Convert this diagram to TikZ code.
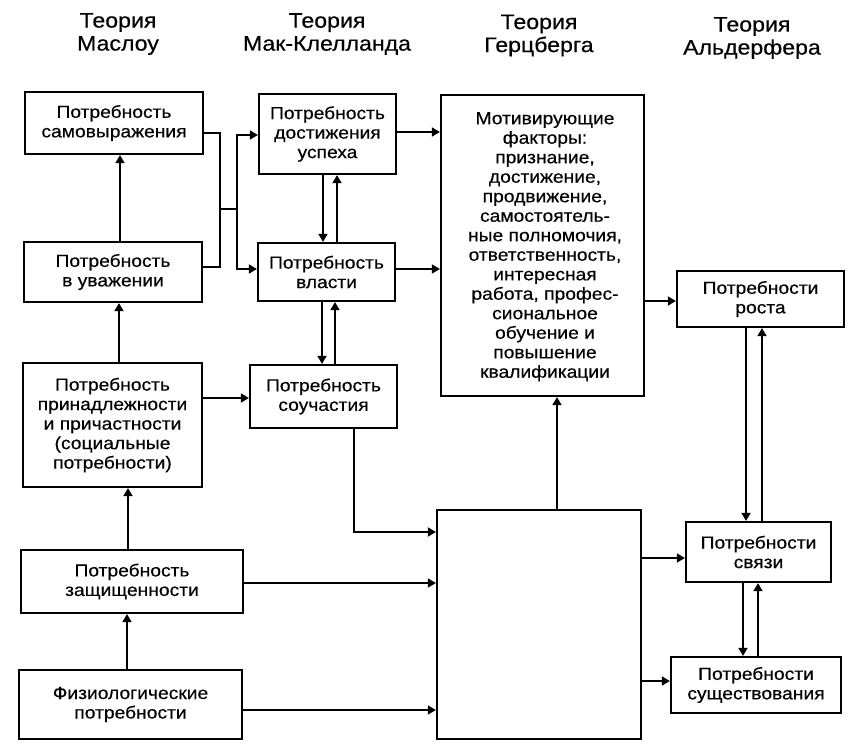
\documentclass[tikz,border=0pt]{standalone}
\usepackage{fontspec}
\setmainfont{Liberation Sans}[FakeStretch=1.1,FakeBold=0.4]
\usetikzlibrary{arrows.meta}
\newcommand\boxfont{\fontsize{17.5}{19.5}\selectfont}
\newcommand\hdrfont{\fontsize{21}{23}\selectfont}
\tikzset{
  box/.style={draw, line width=2.2pt, inner sep=0pt, align=center, font=\boxfont},
  boxtext/.style={inner sep=0pt, align=center, font=\boxfont},
  arr/.style={line width=1.6pt, -{Triangle[length=8pt,width=9pt]}},
  ln/.style={line width=1.6pt},
  hdr/.style={align=center, font=\hdrfont, inner sep=0pt}
}
\begin{document}
\begin{tikzpicture}[x=1pt,y=-1pt]
\useasboundingbox (0,0) rectangle (856,753);
% headers
\node[hdr] (h1) at (118,34) {Теория\\Маслоу};
\node[hdr] (h2) at (327,34) {Теория\\Мак-Клелланда};
\node[hdr] (h3) at (539,35.5) {Теория\\Герцберга};
\node[hdr] (h4) at (752,38) {Теория\\Альдерфера};
% Maslow
\node[box, minimum width=178pt, minimum height=62pt] (B1) at (114,123) {Потребность\\самовыражения};
\node[box, minimum width=178pt, minimum height=60pt] (B2) at (113,272) {Потребность\\в уважении};
\node[box, minimum width=179pt, minimum height=124pt] (B3) at (112.5,425) {Потребность\\принадлежности\\и причастности\\(социальные\\потребности)};
\node[box, minimum width=222pt, minimum height=63pt] (B4) at (132,581.5) {Потребность\\защищенности};
\node[box, minimum width=223pt, minimum height=69pt] (B5) at (130.5,704.5) {Физиологические\\потребности};
% McClelland
\node[box, minimum width=137pt, minimum height=80pt] (M1) at (327.5,134) {Потребность\\достижения\\успеха};
\node[box, minimum width=137pt, minimum height=58pt] (M2) at (326.5,272) {Потребность\\власти};
\node[box, minimum width=147pt, minimum height=63pt] (M3) at (323.5,396.5) {Потребность\\соучастия};
% Herzberg
\node[box, minimum width=203pt, minimum height=301pt] (H) at (542.5,245.5) {};
\node[boxtext, anchor=north] (Ht) at (545,112) {Мотивирующие\\факторы:\\признание,\\достижение,\\продвижение,\\самостоятель-\\ные полномочия,\\ответственность,\\интересная\\работа, профес-\\сиональное\\обучение и\\повышение\\квалификации};
\node[box, minimum width=204pt, minimum height=229pt] (L) at (539,624.5) {};
% Alderfer
\node[box, minimum width=167pt, minimum height=56pt] (A1) at (760.5,299) {Потребности\\роста};
\node[box, minimum width=145pt, minimum height=60pt] (A2) at (758.5,552) {Потребности\\связи};
\node[box, minimum width=170pt, minimum height=56pt] (A3) at (756,685) {Потребности\\существования};
% Maslow verticals
\draw[arr] (B2.north -| 120,0) -- (B1.south -| 120,0);
\draw[arr] (B3.north -| 119,0) -- (B2.south -| 119,0);
\draw[arr] (B4.north -| 128,0) -- (B3.south -| 128,0);
\draw[arr] (B5.north -| 127,0) -- (B4.south -| 127,0);
% bus to McClelland
\coordinate (j1) at (220,209);
\coordinate (j2) at (237,209);
\draw[ln] (B1.east |- 0,133) -| (j1) |- (B2.east |- 0,267);
\draw[ln] (j1) -- (j2);
\draw[arr] (j2) |- (M1.west |- 0,135);
\draw[arr] (j2) |- (M2.west |- 0,269);
% McClelland verticals
\draw[arr] (M1.south -| 323,0) -- (M2.north -| 323,0);
\draw[arr] (M2.north -| 337,0) -- (M1.south -| 337,0);
\draw[arr] (M2.south -| 322,0) -- (M3.north -| 322,0);
\draw[arr] (M3.north -| 335,0) -- (M2.south -| 335,0);
\draw[arr] (B3.east |- 0,398) -- (M3.west |- 0,398);
% to Herzberg
\draw[arr] (M1.east |- 0,132) -- (H.west |- 0,132);
\draw[arr] (M2.east |- 0,269) -- (H.west |- 0,269);
\draw[arr] (M3.south -| 354,0) |- (L.west |- 0,532);
\draw[arr] (B4.east |- 0,583) -- (L.west |- 0,583);
\draw[arr] (B5.east |- 0,710) -- (L.west |- 0,710);
\draw[arr] (L.north -| 557,0) -- (H.south -| 557,0);
% to Alderfer
\draw[arr] (H.east |- 0,301) -- (A1.west |- 0,301);
\draw[arr] (L.east |- 0,558) -- (A2.west |- 0,558);
\draw[arr] (L.east |- 0,681) -- (A3.west |- 0,681);
\draw[arr] (A1.south -| 746,0) -- (A2.north -| 746,0);
\draw[arr] (A2.north -| 762,0) -- (A1.south -| 762,0);
\draw[arr] (A2.south -| 743,0) -- (A3.north -| 743,0);
\draw[arr] (A3.north -| 758,0) -- (A2.south -| 758,0);
\end{tikzpicture}
\end{document}
